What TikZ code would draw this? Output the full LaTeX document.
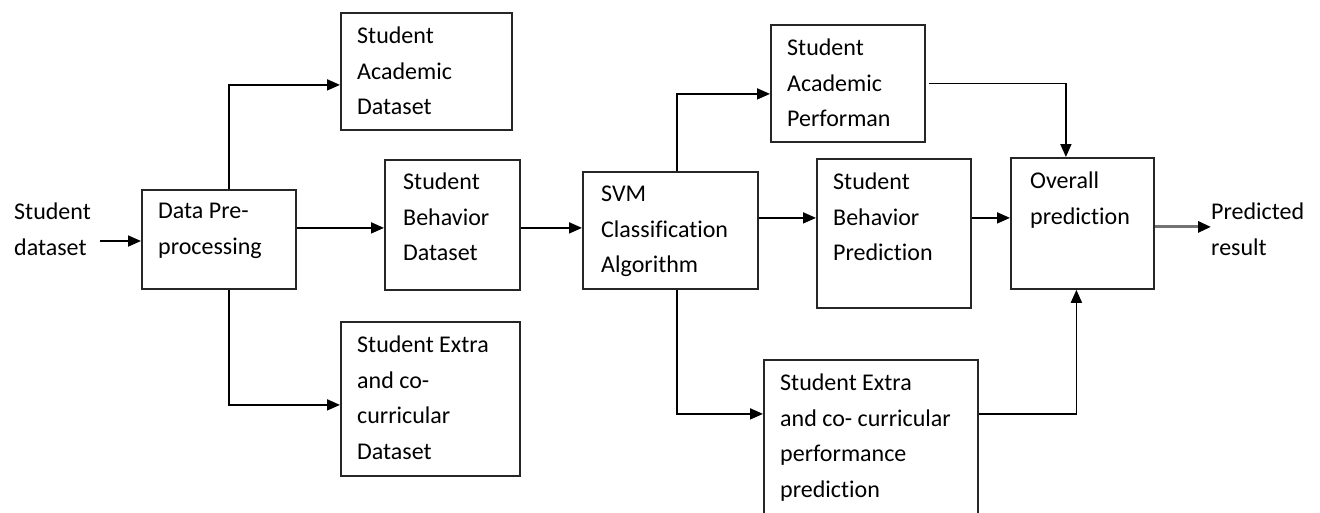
\documentclass[tikz,border=0pt]{standalone}
\usepackage{fontspec}
\setmainfont[Ligatures=NoCommon]{Carlito}
\usetikzlibrary{arrows.meta}
\begin{document}
\begin{tikzpicture}[x=1pt,y=-1pt,
  box/.style={draw=black!85,line width=1.8pt,inner sep=0pt,anchor=north west},
  lbl/.style={anchor=north west,align=left,inner sep=0pt,text=black,font=\fontsize{24}{35.5}\selectfont},
  arr/.style={draw=black,line width=1.8pt,-{Triangle[length=13pt,width=11pt]}},
  garr/.style={draw=black!55,line width=3pt,-{Triangle[length=13pt,width=11pt,color=black]}}
]
\useasboundingbox (0,0) rectangle (1320,512);
\fill[white] (0,0) rectangle (1320,512);
% boxes
\node[box,minimum width=154pt,minimum height=99pt]  (dp)  at (141,189) {};
\node[box,minimum width=171pt,minimum height=117pt] (sad) at (340,12) {};
\node[box,minimum width=135pt,minimum height=130pt] (sbd) at (384,159) {};
\node[box,minimum width=179pt,minimum height=154pt] (sed) at (340,321) {};
\node[box,minimum width=175pt,minimum height=117pt] (svm) at (582,171) {};
\node[box,minimum width=154pt,minimum height=117pt] (sap) at (770,24) {};
\node[box,minimum width=154pt,minimum height=149pt] (sbp) at (816,158) {};
\node[box,minimum width=143pt,minimum height=131pt] (op)  at (1010,157) {};
\node[box,minimum width=214pt,minimum height=180pt] (sep) at (763,359) {};
% texts
\node[lbl] (sd)   at (14,203)   {Student\\dataset};
\node[lbl] (dpt)  at (158,203)  {Data Pre-\\processing};
\node[lbl] (sadt) at (357,27)   {Student\\Academic\\Dataset};
\node[lbl] (sbdt) at (403,173)  {Student\\Behavior\\Dataset};
\node[lbl] (sedt) at (357,336)  {Student Extra\\and co-\\curricular\\Dataset};
\node[lbl] (svmt) at (601,186)  {SVM\\Classification\\Algorithm};
\node[lbl] (sapt) at (787,39)   {Student\\Academic\\Performan};
\node[lbl] (sbpt) at (833,173)  {Student\\Behavior\\Prediction};
\node[lbl] (opt)  at (1030,172) {Overall\\prediction};
\node[lbl] (sept) at (780,374)  {Student Extra\\and co- curricular\\performance\\prediction};
\node[lbl] (pr)   at (1211,203) {Predicted\\result};
% connectors
\coordinate (sdout) at (100,241);
\draw[arr] (sdout) -- (dp.west |- sdout);
\draw[arr] ([xshift=10pt]dp.north) |- ([yshift=-13.5pt]sad.west);
\draw[arr] ([xshift=10pt]dp.south) |- ([yshift=-6pt]sed.west);
\draw[arr] ([yshift=11.5pt]dp.east) -- ([yshift=11.5pt]dp.east -| sbd.west);
\draw[arr] ([yshift=-3pt]sbd.east) -- ([yshift=-3pt]sbd.east -| svm.west);
\draw[arr] ([xshift=6.5pt]svm.north) |- ([yshift=-10.5pt]sap.west);
\draw[arr] ([yshift=12.5pt]svm.east) -- ([yshift=12.5pt]svm.east -| sbp.west);
\draw[arr] ([xshift=6.5pt]svm.south) |- ([yshift=36pt]sep.west);
\draw[arr] ([xshift=3pt]sap.east) -| ([xshift=-16.5pt]op.north);
\draw[arr] ([yshift=15.5pt]sbp.east) -- ([yshift=15.5pt]sbp.east -| op.west);
\draw[arr] ([yshift=36pt]sep.east) -| ([xshift=-6pt]op.south);
\draw[garr] ([yshift=-3.5pt]op.east) -- ([yshift=-3.5pt]op.east -| pr.west);
\end{tikzpicture}
\end{document}
